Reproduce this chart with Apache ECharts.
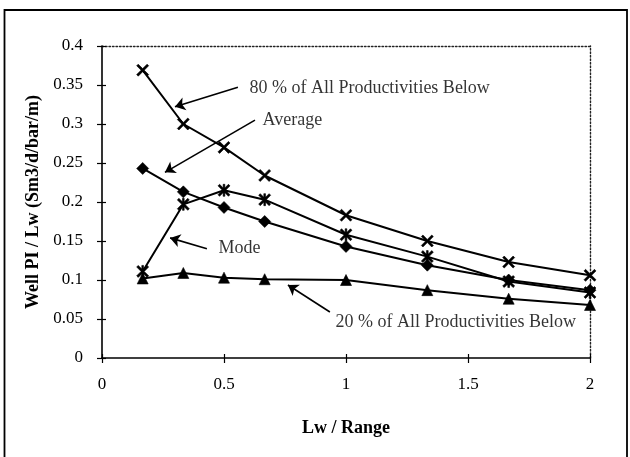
<!DOCTYPE html>
<html>
<head>
<meta charset="utf-8">
<script src="https://cdn.jsdelivr.net/npm/echarts@6/dist/echarts.min.js"></script>
<style>
  html, body { margin: 0; padding: 0; background: #fff; }
  #chart { width: 630px; height: 457px; }
</style>
</head>
<body>
<div id="chart"></div>
<script>
// Lw / Range values (1/6 steps)
var lwRange = [1/6, 1/3, 1/2, 2/3, 1, 4/3, 5/3, 2];

// Well PI / Lw for each statistic
var p80Values  = [0.369, 0.300, 0.270, 0.234, 0.183, 0.150, 0.123, 0.106];
var avgValues  = [0.243, 0.213, 0.193, 0.175, 0.143, 0.119, 0.100, 0.087];
var modeValues = [0.111, 0.197, 0.215, 0.203, 0.158, 0.130, 0.098, 0.084];
var p20Values  = [0.102, 0.109, 0.103, 0.101, 0.100, 0.087, 0.076, 0.068];

// Callout texts, their anchor (left edge of text) and arrow start/end in data units
var calloutTexts  = ['80 % of All Productivities Below', 'Average', 'Mode', '20 % of All Productivities Below'];
var calloutAnchor = [[0.602, 0.346], [0.656, 0.305], [0.475, 0.141], [0.955, 0.046]];
var arrowFrom     = [[0.557, 0.347], [0.627, 0.305], [0.430, 0.140], [0.934, 0.059]];
var arrowTo       = [[0.299, 0.322], [0.258, 0.238], [0.279, 0.154], [0.762, 0.0936]];

function pairs(xs, ys) {
  return xs.map(function (x, i) { return [x, ys[i]]; });
}

var SERIF = '"Liberation Serif", "Times New Roman", serif';

var crossPath = 'path://M0,1.3L1.3,0L5,3.7L8.7,0L10,1.3L6.3,5L10,8.7L8.7,10L5,6.3L1.3,10L0,8.7L3.7,5Z';
var starPath  = 'path://M0,1.3L1.3,0L5,3.7L8.7,0L10,1.3L6.3,5L10,8.7L8.7,10L5,6.3L1.3,10L0,8.7L3.7,5Z' +
                'M4.3,0L5.7,0L5.7,10L4.3,10Z';

function lineSeries(name, ys, symbol, size) {
  return {
    name: name,
    type: 'line',
    data: pairs(lwRange, ys),
    symbol: symbol,
    symbolSize: size,
    showSymbol: true,
    lineStyle: { color: '#000', width: 2 },
    itemStyle: { color: '#000', borderColor: '#000', borderWidth: 0.6 },
    z: 3
  };
}

var chart = echarts.init(document.getElementById('chart'), null, { renderer: 'canvas' });

var labelFont = { color: '#000', fontFamily: SERIF, fontSize: 17 };
var calloutFont = { color: '#000', fontFamily: SERIF, fontSize: 18 };
var titleFont = { color: '#000', fontFamily: SERIF, fontSize: 18, fontWeight: 'bold' };

function frameAxis(extra) {
  return Object.assign({
    type: 'value',
    axisLine: { show: true, onZero: false, lineStyle: { color: '#222', width: 1.4, type: [1.5, 2] } },
    axisTick: { show: false }, axisLabel: { show: false }, splitLine: { show: false }
  }, extra);
}

function innerTickAxis(extra) {
  return Object.assign({
    type: 'value',
    axisLine: { show: false, onZero: false },
    axisTick: { show: true, inside: true, length: 4, lineStyle: { color: '#000', width: 1.2 } },
    axisLabel: { show: false }, splitLine: { show: false }
  }, extra);
}

chart.setOption({
  animation: false,
  backgroundColor: '#fff',
  grid: { left: 102, right: 40, top: 46, bottom: 99 },
  graphic: [{
    type: 'rect',
    shape: { x: 4.5, y: 10, width: 622.5, height: 460 },
    style: { fill: 'none', stroke: '#000', lineWidth: 1.8 },
    silent: true
  }],
  xAxis: [
    {
      type: 'value', min: 0, max: 2, interval: 0.5, position: 'bottom',
      splitLine: { show: false },
      axisLine: { show: true, onZero: false, lineStyle: { color: '#000', width: 1.6 } },
      axisTick: { show: true, length: 5, lineStyle: { color: '#000', width: 1.2 } },
      axisLabel: Object.assign({ margin: 18 }, labelFont),
      name: 'Lw / Range',
      nameLocation: 'middle',
      nameGap: 61,
      nameTextStyle: titleFont
    },
    frameAxis({ min: 0, max: 2, interval: 0.5, position: 'top' }),
    innerTickAxis({ min: 0, max: 2, interval: 0.5, position: 'bottom' })
  ],
  yAxis: [
    {
      type: 'value', min: 0, max: 0.4, interval: 0.05, position: 'left',
      splitLine: { show: false },
      axisLine: { show: true, onZero: false, lineStyle: { color: '#000', width: 1.6 } },
      axisTick: { show: true, length: 5, lineStyle: { color: '#000', width: 1.2 } },
      axisLabel: Object.assign({ margin: 19 }, labelFont),
      name: 'Well PI / Lw (Sm3/d/bar/m)',
      nameLocation: 'middle',
      nameGap: 59,
      nameRotate: 90,
      nameTextStyle: titleFont
    },
    frameAxis({ min: 0, max: 0.4, interval: 0.05, position: 'right' }),
    innerTickAxis({ min: 0, max: 0.4, interval: 0.05, position: 'left' })
  ],
  series: [
    lineSeries('80 % of All Productivities Below', p80Values, crossPath, 12),
    lineSeries('Average', avgValues, 'diamond', 12),
    lineSeries('Mode', modeValues, starPath, 12),
    lineSeries('20 % of All Productivities Below', p20Values, 'triangle', 11),
    {
      name: 'callouts',
      type: 'scatter',
      data: calloutTexts.map(function (t, i) { return { name: t, value: calloutAnchor[i] }; }),
      symbolSize: 1,
      itemStyle: { color: 'rgba(0,0,0,0)' },
      label: Object.assign({ show: true, position: 'right', distance: 0, formatter: '{b}' }, calloutFont),
      silent: true,
      z: 4,
      markLine: {
        silent: true,
        symbol: ['none', 'arrow'],
        symbolSize: 10,
        label: { show: false },
        lineStyle: { color: '#000', width: 1.6, type: 'solid' },
        itemStyle: { color: '#000' },
        data: arrowFrom.map(function (p, i) {
          return [{ coord: p }, { coord: arrowTo[i] }];
        })
      }
    }
  ]
});
</script>
</body>
</html>
